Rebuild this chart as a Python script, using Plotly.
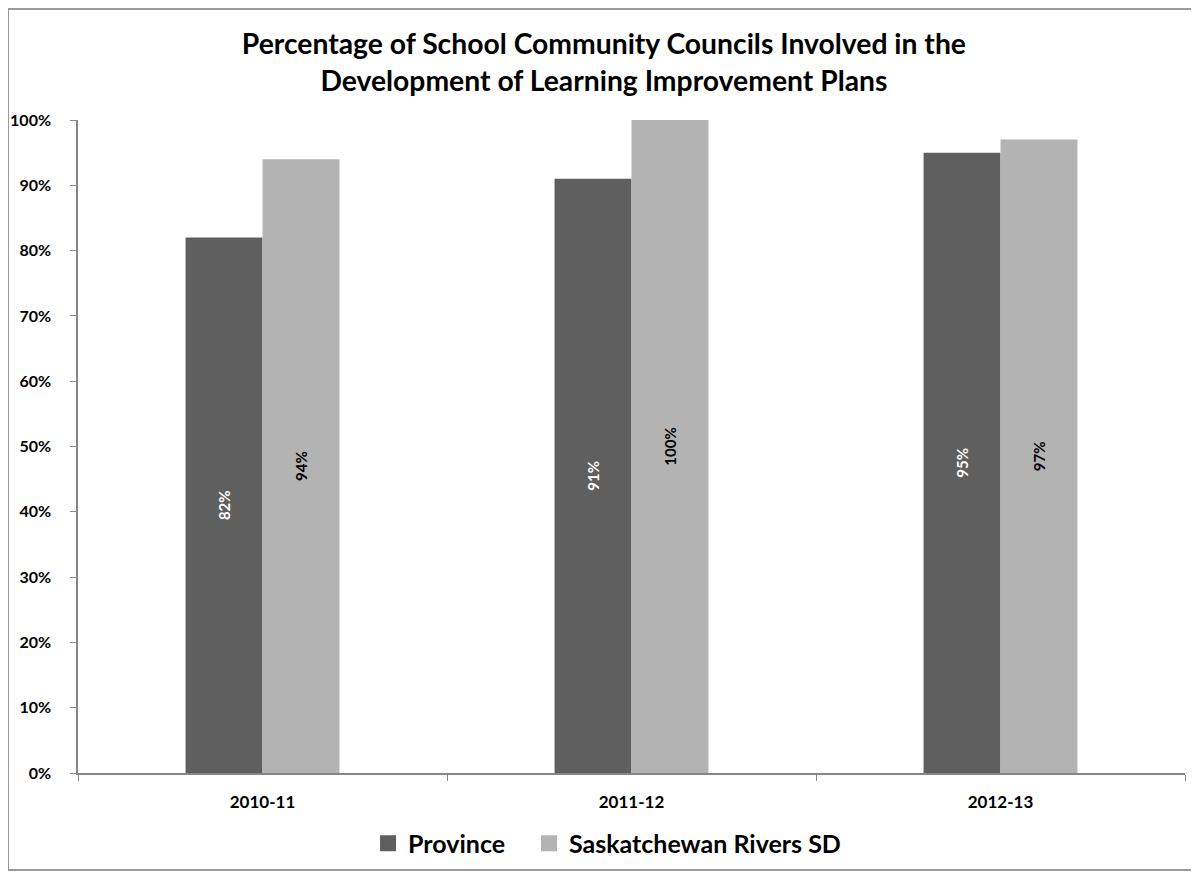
import plotly.graph_objects as go

years = ["2010-11", "2011-12", "2012-13"]
province = [82, 91, 95]
sask_rivers = [94, 100, 97]
series_names = ["Province", "Saskatchewan Rivers SD"]
series_colors = ["#5f5f5f", "#b3b3b3"]
y_ticks = [0, 10, 20, 30, 40, 50, 60, 70, 80, 90, 100]
y_tick_labels = [f"{v}%" for v in y_ticks]

FONT = "Lato, 'Open Sans', Arial, sans-serif"

fig = go.Figure()
fig.add_trace(go.Bar(
    x=years, y=province, name=series_names[0], showlegend=False,
    marker=dict(color=series_colors[0], line=dict(width=0)),
    text=[f"<b>{v}%</b>" for v in province], textposition="inside",
    insidetextanchor="middle", textangle=-90,
    textfont=dict(color="white", size=15, family=FONT),
))
fig.add_trace(go.Bar(
    x=years, y=sask_rivers, name=series_names[1], showlegend=False,
    marker=dict(color=series_colors[1], line=dict(width=0)),
    text=[f"<b>{v}%</b>" for v in sask_rivers], textposition="inside",
    insidetextanchor="middle", textangle=-90,
    textfont=dict(color="black", size=15, family=FONT),
))
# legend entries with larger square swatches (one legend box per series)
for name, col, leg in zip(series_names, series_colors, ["legend", "legend2"]):
    fig.add_trace(go.Scatter(
        x=[None], y=[None], mode="markers", name=f"<b>{name}</b>",
        marker=dict(symbol="square", size=17, color=col),
        hoverinfo="skip", legend=leg,
    ))

legend_style = dict(
    orientation="h", xanchor="left", y=-0.0727, yanchor="top",
    font=dict(size=25, family=FONT, color="black"),
    itemsizing="trace", itemwidth=30, bgcolor="rgba(0,0,0,0)",
)

fig.update_layout(
    width=1199, height=872,
    paper_bgcolor="white", plot_bgcolor="white",
    margin=dict(l=70, r=22, t=112, b=107),
    barmode="group", bargap=0.583, bargroupgap=0,
    font=dict(family=FONT, color="black"),
    title=dict(
        text="<b>Percentage of School Community Councils Involved in the<br>Development of Learning Improvement Plans</b>",
        x=0.497, xanchor="center", y=0.947, yanchor="top",
        font=dict(size=28.3, family=FONT, color="black"),
    ),
    legend=dict(x=0.262, **legend_style),
    legend2=dict(x=0.4074, **legend_style),
    showlegend=True,
)
fig.update_xaxes(
    type="category", automargin=False,
    showline=True, linecolor="#868686", linewidth=1.5,
    ticks="outside", tickson="boundaries", ticklen=6, tickcolor="#868686",
    tickfont=dict(size=17, family=FONT, color="black"),
    tickprefix="<b>", ticksuffix="</b>", ticklabelstandoff=13,
    showgrid=False, zeroline=False,
)
fig.update_yaxes(
    range=[0, 100], automargin=False,
    tickvals=y_ticks, ticktext=[f"<b>{t}</b>" for t in y_tick_labels],
    showline=True, linecolor="#868686", linewidth=1.5,
    ticks="outside", ticklen=6, tickcolor="#868686",
    tickfont=dict(size=16, family=FONT, color="black"),
    ticklabelstandoff=16,
    showgrid=False, zeroline=False,
)

# outer chart frame
fig.add_shape(type="rect", xref="paper", yref="paper",
              x0=-0.0632, x1=1.02, y0=-0.1485, y1=1.170,
              line=dict(color="#9a9a9a", width=2), fillcolor="rgba(0,0,0,0)", layer="below")

fig.write_html("out.html")
